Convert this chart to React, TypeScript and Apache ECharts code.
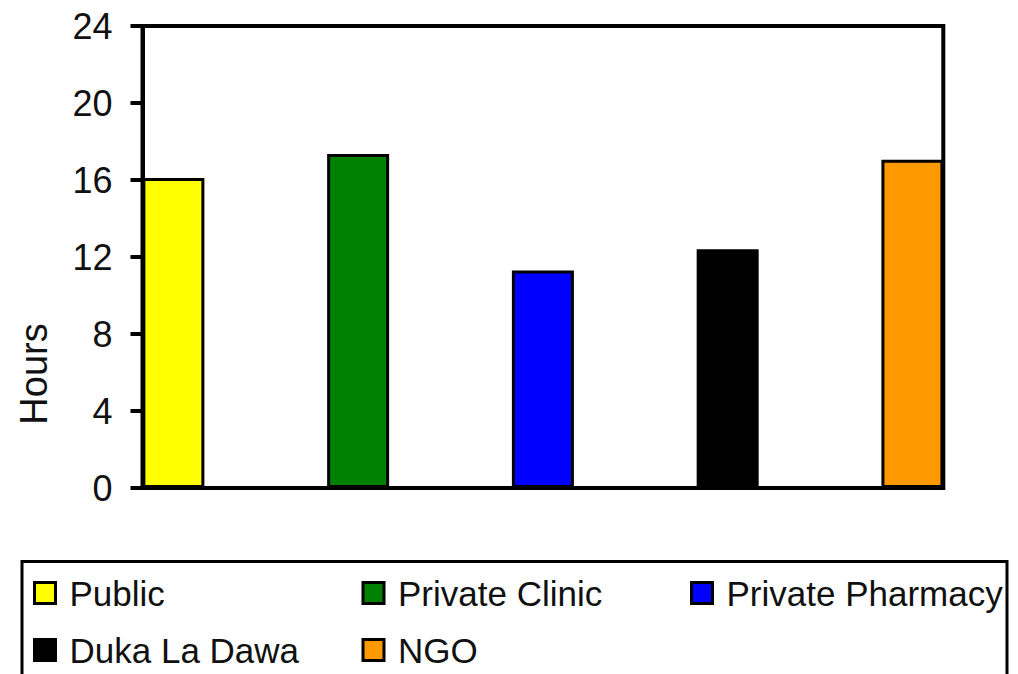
import React, { useEffect, useRef } from "react";
import * as echarts from "echarts";

const seriesNames = ["Public", "Private Clinic", "Private Pharmacy", "Duka La Dawa", "NGO"];
const seriesValues = [16.1, 17.35, 11.3, 12.4, 17.05];
const seriesColors = ["#FFFF00", "#008000", "#0000FF", "#000000", "#FF9900"];
const yTicks = { min: 0, max: 24, interval: 4 };
const axisTitle = "Hours";

const FONT = "'Liberation Sans', Arial, sans-serif";

export default function App() {
  const ref = useRef<HTMLDivElement>(null);
  useEffect(() => {
    if (!ref.current) return;
    const chart = echarts.init(ref.current, undefined, { renderer: "svg" });
    const option: any = {
      animation: false,
      backgroundColor: "#ffffff",
      grid: {
        left: 142.5,
        right: 74.7,
        top: 26,
        bottom: 186,
        show: true,
        borderColor: "#000",
        borderWidth: 4,
        backgroundColor: "transparent",
        containLabel: false,
      },
      xAxis: {
        type: "category",
        data: [""],
        axisLine: { lineStyle: { color: "#000", width: 4 } },
        axisTick: { show: false },
        axisLabel: { show: false },
        splitLine: { show: false },
      },
      yAxis: {
        type: "value",
        min: yTicks.min,
        max: yTicks.max,
        interval: yTicks.interval,
        axisLine: { show: true, lineStyle: { color: "#000", width: 4 } },
        axisTick: { show: true, length: 12, lineStyle: { color: "#000", width: 4 } },
        axisLabel: { color: "#111", fontSize: 36, fontFamily: FONT, margin: 30 },
        splitLine: { show: false },
      },
      legend: {
        left: 22,
        top: 561.5,
        width: 980,
        orient: "horizontal",
        icon: "rect",
        itemWidth: 21,
        itemHeight: 21,
        itemGap: 2,
        padding: [4, 3.5, 4, 11],
        borderColor: "#000",
        borderWidth: 3,
        itemStyle: { borderColor: "#000", borderWidth: 3 },
        textStyle: {
          color: "#111",
          fontSize: 35,
          fontFamily: FONT,
          lineHeight: 55,
          width: 290,
          overflow: "none",
          padding: [0, 0, 0, 9],
        },
        data: seriesNames.map((n, i) =>
          i === 2 ? { name: n, textStyle: { width: 277 } } : { name: n }
        ),
      },
      graphic: [
        {
          type: "text",
          x: 34,
          y: 374,
          rotation: Math.PI / 2,
          style: {
            text: axisTitle,
            fontSize: 38,
            fontFamily: FONT,
            fill: "#111",
            textAlign: "center",
            textVerticalAlign: "middle",
          },
        },
      ],
      series: seriesNames.map((n, i) => ({
        name: n,
        type: "bar",
        data: [seriesValues[i]],
        barWidth: 62,
        barGap: "198%",
        itemStyle: { color: seriesColors[i], borderColor: "#000", borderWidth: 3 },
      })),
    };
    chart.setOption(option);
    return () => chart.dispose();
  }, []);
  return (
    <div
      ref={ref}
      style={{ position: "absolute", left: 0, top: 0, width: 1018, height: 674 }}
    />
  );
}
